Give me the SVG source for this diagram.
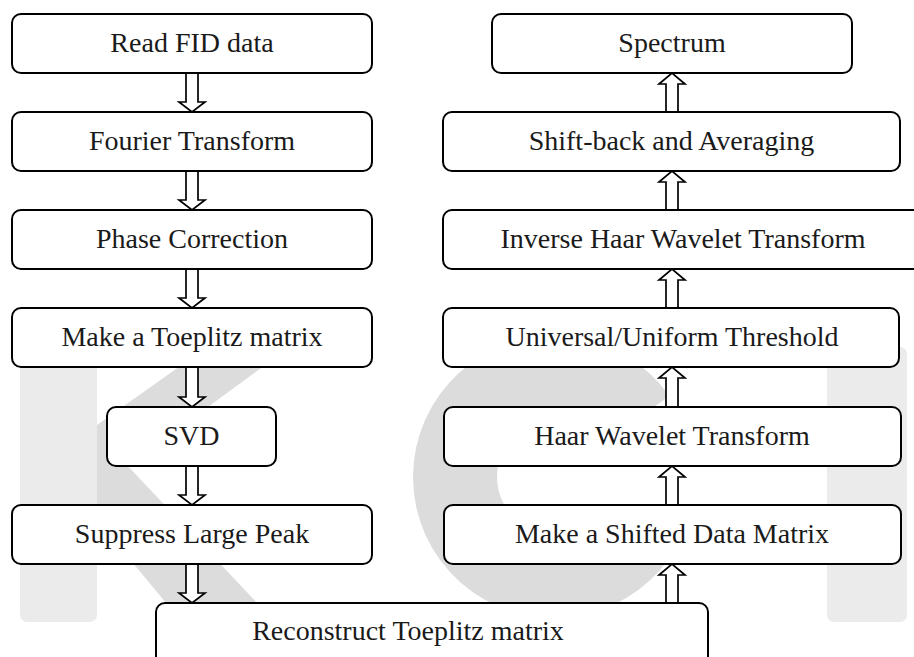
<svg xmlns="http://www.w3.org/2000/svg" width="914" height="657" viewBox="0 0 914 657">
<style>
.box{fill:#fff;stroke:#000;stroke-width:2}
.arr{fill:#fff;stroke:#000;stroke-width:1.7;stroke-linejoin:miter}
.lbl{font-family:"Liberation Serif","DejaVu Serif",serif;font-size:28px;fill:#1a1a1a;text-anchor:middle}
.wm1{fill:#ebebeb}
.wm2{fill:#dcdcdc}
</style>
<rect width="914" height="657" fill="#fff"/>
<g id="watermark">
<rect class="wm1" x="20" y="347" width="77" height="275" rx="7"/>
<path class="wm2" d="M97 425 L207 347 L290 347 L97 488 Z"/>
<path class="wm2" d="M97 465 L125 463 L275 622 L182 622 L97 520 Z"/>
<path class="wm2" d="M669.5 396.1 A141 141 0 1 0 669.5 557.9 L600.7 509.7 A57 57 0 1 1 600.7 444.3 Z"/>
<rect class="wm1" x="827" y="347" width="80" height="275" rx="7"/>
</g>
<g id="connectors">
<path class="arr" d="M186 73 V102 H179 L192 112 L205 102 H198 V73"/>
<path class="arr" d="M186 171 V200 H179 L192 210 L205 200 H198 V171"/>
<path class="arr" d="M186 269 V298 H179 L192 308 L205 298 H198 V269"/>
<path class="arr" d="M186 367 V397 H179 L192 407 L205 397 H198 V367"/>
<path class="arr" d="M186 466 V495 H179 L192 505 L205 495 H198 V466"/>
<path class="arr" d="M186 564 V593 H179 L192 603 L205 593 H198 V564"/>
<path class="arr" d="M666 112 V84 H659 L672 73 L685 84 H678 V112"/>
<path class="arr" d="M666 210 V182 H659 L672 171 L685 182 H678 V210"/>
<path class="arr" d="M666 308 V280 H659 L672 269 L685 280 H678 V308"/>
<path class="arr" d="M666 407 V378 H659 L672 367 L685 378 H678 V407"/>
<path class="arr" d="M666 505 V477 H659 L672 466 L685 477 H678 V505"/>
<path class="arr" d="M666 603 V575 H659 L672 564 L685 575 H678 V603"/>
</g>
<g id="read-fid"><rect class="box" x="12" y="14" width="360" height="59" rx="9"/><text class="lbl" x="192" y="52">Read FID data</text></g>
<g id="fourier"><rect class="box" x="12" y="112" width="360" height="59" rx="9"/><text class="lbl" x="192" y="150">Fourier Transform</text></g>
<g id="phase"><rect class="box" x="12" y="210" width="360" height="59" rx="9"/><text class="lbl" x="192" y="248">Phase Correction</text></g>
<g id="toeplitz"><rect class="box" x="12" y="308" width="360" height="59" rx="9"/><text class="lbl" x="192" y="346">Make a Toeplitz matrix</text></g>
<g id="svd"><rect class="box" x="107" y="407" width="169" height="59" rx="9"/><text class="lbl" x="191.5" y="445">SVD</text></g>
<g id="suppress"><rect class="box" x="12" y="505" width="360" height="59" rx="9"/><text class="lbl" x="192" y="543">Suppress Large Peak</text></g>
<g id="reconstruct"><rect class="box" x="156" y="603" width="552" height="64" rx="9"/><text class="lbl" x="408" y="640">Reconstruct Toeplitz matrix</text></g>
<g id="spectrum"><rect class="box" x="492" y="14" width="360" height="59" rx="9"/><text class="lbl" x="672" y="52">Spectrum</text></g>
<g id="shift-back"><rect class="box" x="443" y="112" width="457" height="59" rx="9"/><text class="lbl" x="671.5" y="150">Shift-back and Averaging</text></g>
<g id="inverse-haar"><rect class="box" x="443" y="210" width="480" height="59" rx="9"/><text class="lbl" x="683" y="248">Inverse Haar Wavelet Transform</text></g>
<g id="threshold"><rect class="box" x="443" y="308" width="456" height="59" rx="9"/><text class="lbl" x="672" y="346">Universal/Uniform Threshold</text></g>
<g id="haar"><rect class="box" x="444" y="407" width="457" height="59" rx="9"/><text class="lbl" x="672" y="445">Haar Wavelet Transform</text></g>
<g id="shifted"><rect class="box" x="444" y="505" width="457" height="59" rx="9"/><text class="lbl" x="672" y="543">Make a Shifted Data Matrix</text></g>
</svg>
